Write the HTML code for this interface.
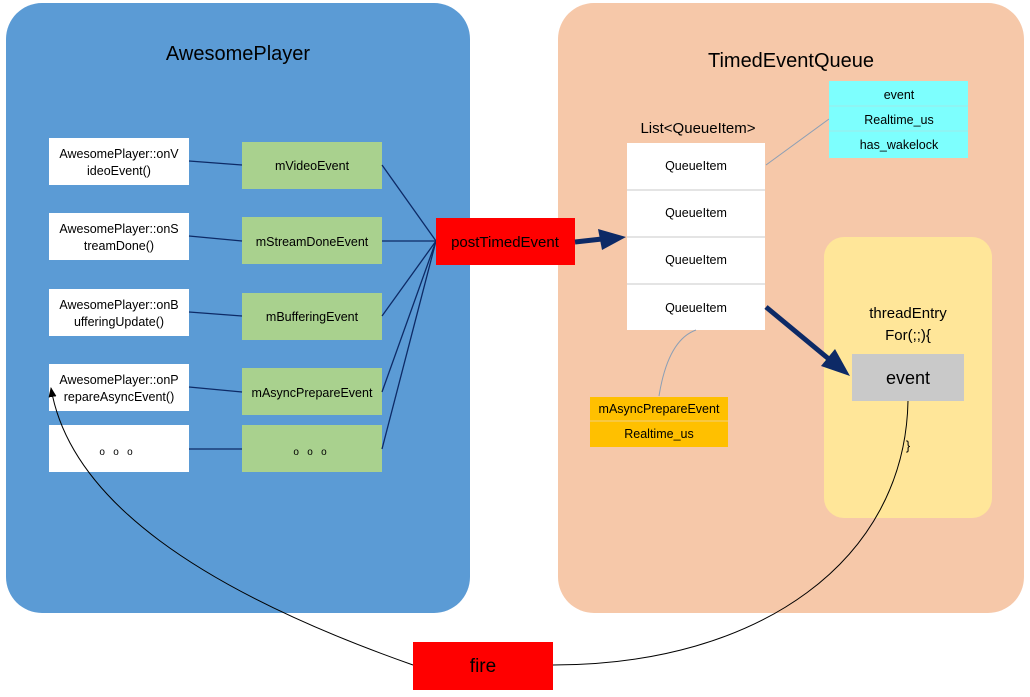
<!DOCTYPE html>
<html><head><meta charset="utf-8"><style>
html,body{margin:0;padding:0;background:#fff;width:1030px;height:697px;overflow:hidden}
svg{display:block}
text{font-family:"Liberation Sans",sans-serif;fill:#000}
</style></head><body>
<svg width="1030" height="697" viewBox="0 0 1030 697">
<defs>
<marker id="sm" markerWidth="10" markerHeight="10" refX="9" refY="5" orient="auto" markerUnits="userSpaceOnUse"><path d="M0,1 L10,5 L0,9 z" fill="#000"/></marker>
</defs>
<rect x="6" y="3" width="464" height="610" rx="36" fill="#5b9bd5"/>
<rect x="558" y="3" width="466" height="610" rx="36" fill="#f6c8a9"/>
<text x="238" y="60" font-size="20" text-anchor="middle">AwesomePlayer</text>
<text x="791" y="67" font-size="20" text-anchor="middle">TimedEventQueue</text>

<g fill="#fff">
<rect x="49" y="138" width="140" height="47"/>
<rect x="49" y="213" width="140" height="47"/>
<rect x="49" y="289" width="140" height="47"/>
<rect x="49" y="364" width="140" height="47"/>
<rect x="49" y="425" width="140" height="47"/>
</g>
<g font-size="12.5" text-anchor="middle">
<text x="119" y="158">AwesomePlayer::onV</text><text x="119" y="175">ideoEvent()</text>
<text x="119" y="233">AwesomePlayer::onS</text><text x="119" y="250">treamDone()</text>
<text x="119" y="309">AwesomePlayer::onB</text><text x="119" y="326">ufferingUpdate()</text>
<text x="119" y="384">AwesomePlayer::onP</text><text x="119" y="401">repareAsyncEvent()</text>
<text x="116" y="455" font-size="10">o&#160;&#160;&#160;o&#160;&#160;&#160;o</text>
</g>
<g fill="#a9d18e">
<rect x="242" y="142" width="140" height="47"/>
<rect x="242" y="217" width="140" height="47"/>
<rect x="242" y="293" width="140" height="47"/>
<rect x="242" y="368" width="140" height="47"/>
<rect x="242" y="425" width="140" height="47"/>
</g>
<g font-size="12.5" text-anchor="middle">
<text x="312" y="170">mVideoEvent</text>
<text x="312" y="246">mStreamDoneEvent</text>
<text x="312" y="321">mBufferingEvent</text>
<text x="312" y="397">mAsyncPrepareEvent</text>
<text x="310" y="455" font-size="10">o&#160;&#160;&#160;o&#160;&#160;&#160;o</text>
</g>
<g stroke="#0d2a66" stroke-width="1.3">
<line x1="189" y1="161" x2="242" y2="165"/>
<line x1="189" y1="236" x2="242" y2="241"/>
<line x1="189" y1="312" x2="242" y2="316"/>
<line x1="189" y1="387" x2="242" y2="392"/>
<line x1="189" y1="449" x2="242" y2="449"/>
<line x1="382" y1="165" x2="436" y2="241"/>
<line x1="382" y1="241" x2="436" y2="241"/>
<line x1="382" y1="316" x2="436" y2="241"/>
<line x1="382" y1="392" x2="436" y2="241"/>
<line x1="382" y1="449" x2="436" y2="241"/>
</g>
<rect x="436" y="218" width="139" height="47" fill="#ff0000"/>
<text x="505" y="247" font-size="15" text-anchor="middle">postTimedEvent</text>
<line x1="575" y1="242" x2="602" y2="239" stroke="#0d2a66" stroke-width="5"/>
<polygon points="626,237 598,229 602,250" fill="#0d2a66"/>

<text x="698" y="133" font-size="15" text-anchor="middle">List&lt;QueueItem&gt;</text>
<rect x="627" y="143" width="138" height="187" fill="#fff"/>
<g stroke="#c8c8c8"><line x1="627" y1="190" x2="765" y2="190"/><line x1="627" y1="237" x2="765" y2="237"/><line x1="627" y1="284" x2="765" y2="284"/></g>
<g font-size="12.5" text-anchor="middle">
<text x="696" y="170">QueueItem</text><text x="696" y="217">QueueItem</text><text x="696" y="264">QueueItem</text><text x="696" y="312">QueueItem</text>
</g>
<line x1="766" y1="165" x2="829" y2="119" stroke="#8c9fb5" stroke-width="1"/>
<rect x="829" y="81" width="139" height="77" fill="#7dfffe"/>
<g stroke="#9fe8e8"><line x1="829" y1="106" x2="968" y2="106"/><line x1="829" y1="131" x2="968" y2="131"/></g>
<g font-size="12.5" text-anchor="middle">
<text x="899" y="99">event</text><text x="899" y="124">Realtime_us</text><text x="899" y="149">has_wakelock</text>
</g>
<path d="M696,330 Q668,340 659,396" stroke="#8c9fb5" fill="none"/>
<rect x="590" y="397" width="138" height="50" fill="#ffc000"/>
<line x1="590" y1="421" x2="728" y2="421" stroke="#f0d080"/>
<g font-size="12.5" text-anchor="middle"><text x="659" y="413">mAsyncPrepareEvent</text><text x="659" y="438">Realtime_us</text></g>

<rect x="824" y="237" width="168" height="281" rx="20" fill="#ffe699"/>
<text x="908" y="318" font-size="15" text-anchor="middle">threadEntry</text>
<text x="908" y="340" font-size="15" text-anchor="middle">For(;;){</text>
<rect x="852" y="354" width="112" height="47" fill="#c9c9c9"/>
<text x="908" y="384" font-size="18" text-anchor="middle">event</text>
<text x="908" y="450" font-size="13" text-anchor="middle">}</text>
<line x1="766" y1="307" x2="830" y2="360" stroke="#0d2a66" stroke-width="5"/>
<polygon points="850,376 821,366 835,349" fill="#0d2a66"/>

<path d="M908,401 C905,560 760,665 553,665" stroke="#000" fill="none"/>
<path d="M413,665 C200,590 70,500 51,388" stroke="#000" fill="none" marker-end="url(#sm)"/>
<rect x="413" y="642" width="140" height="48" fill="#ff0000"/>
<text x="483" y="672" font-size="19" text-anchor="middle">fire</text>
</svg>
</body></html>
